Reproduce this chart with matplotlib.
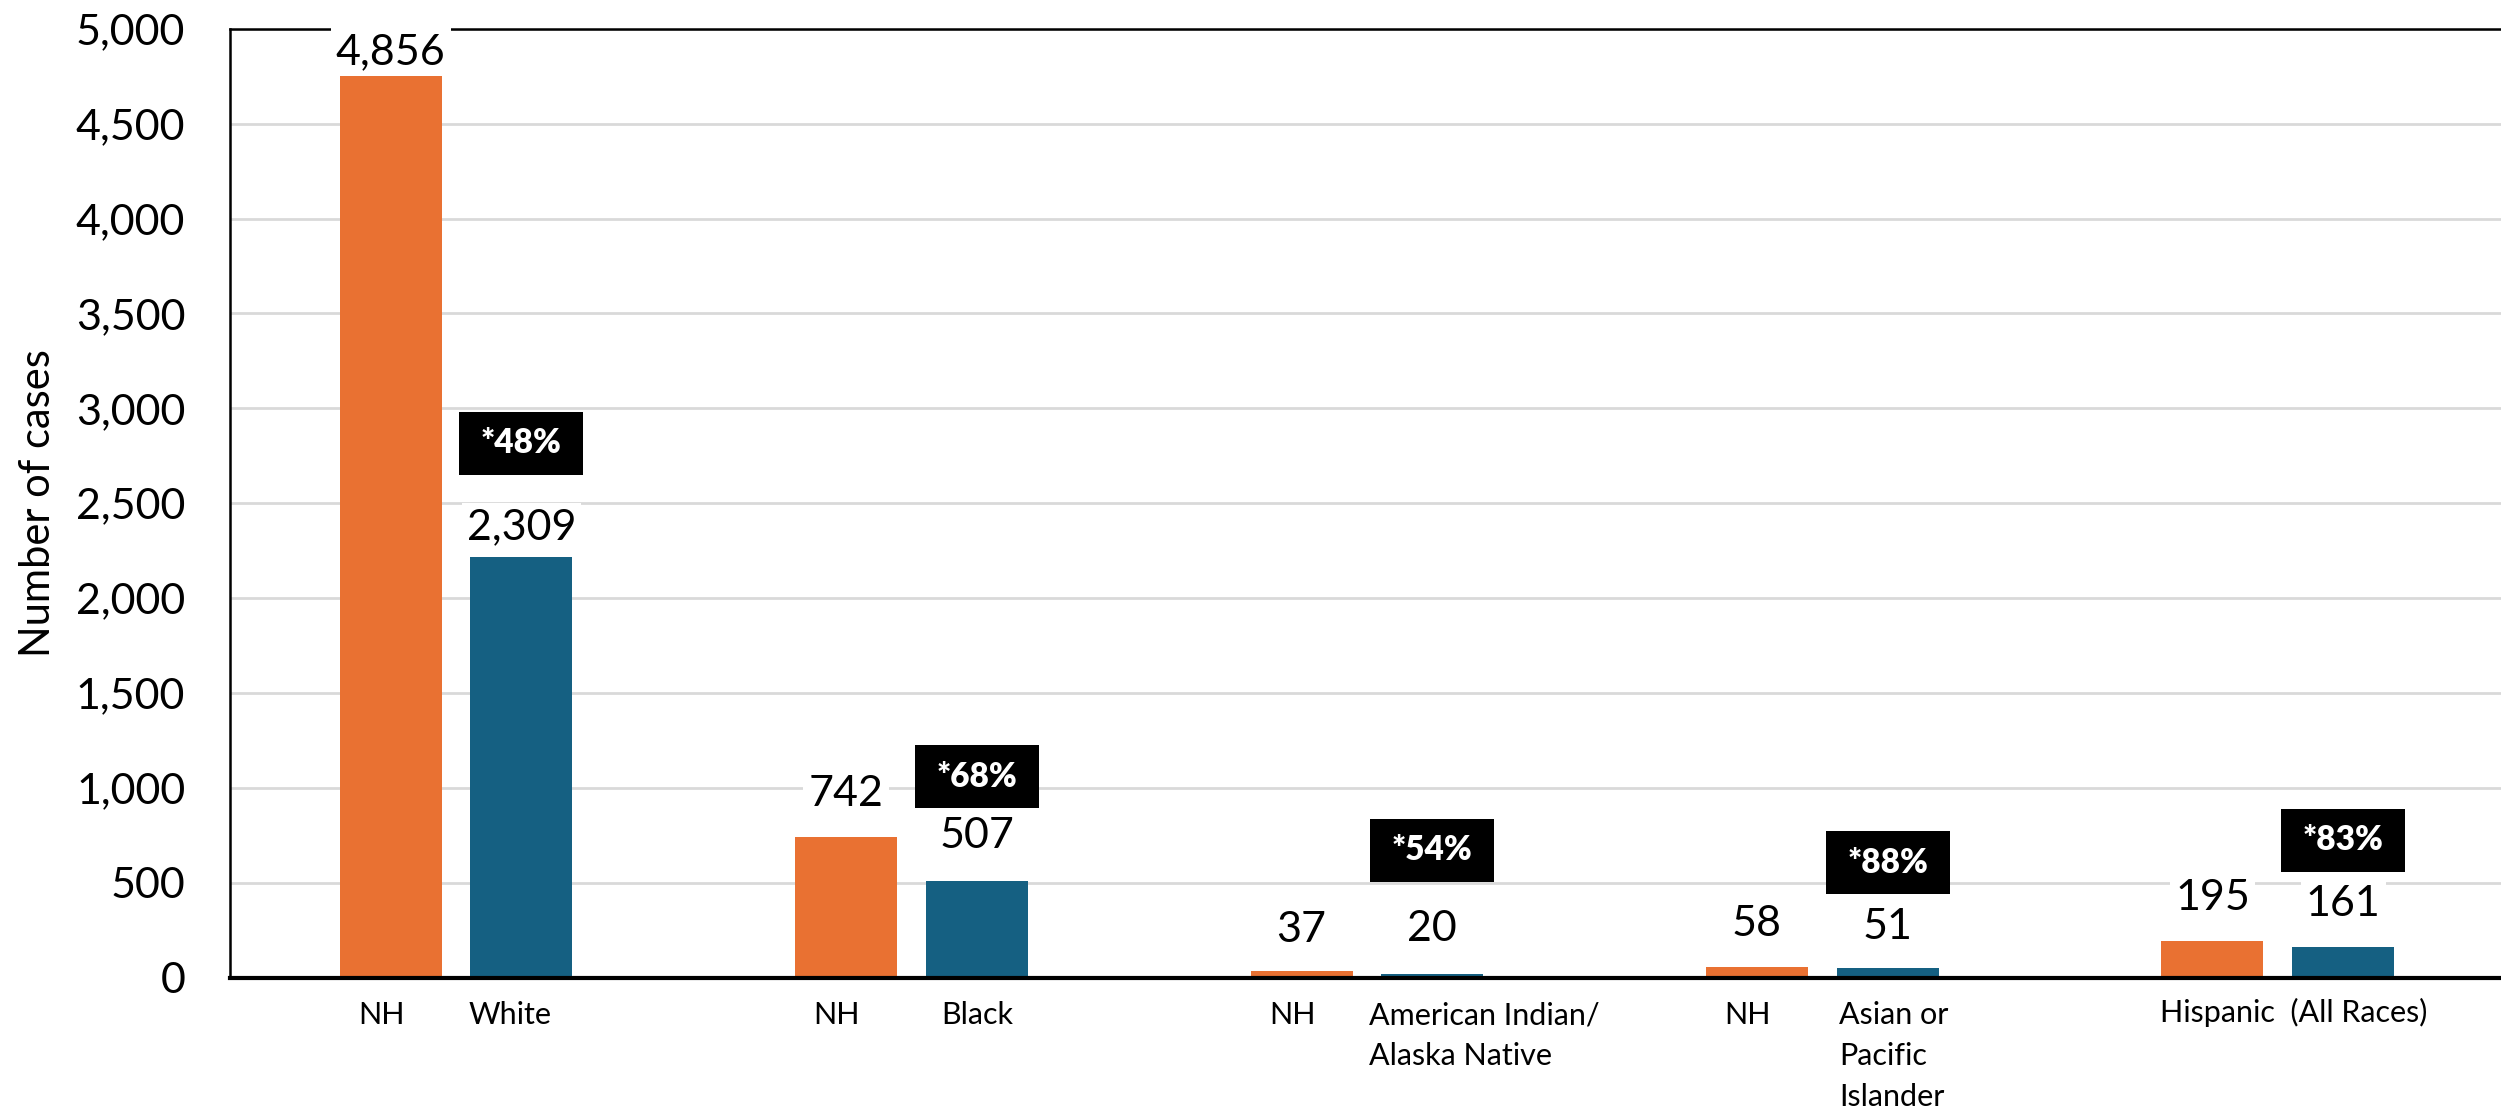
import matplotlib
matplotlib.use("Agg")
import matplotlib.pyplot as plt
import matplotlib.transforms as mtransforms
from matplotlib.patches import Rectangle
import numpy as np

# ---- data ----
groups = ["White", "Black", "American Indian/\nAlaska Native", "Asian or\nPacific\nIslander", "Hispanic"]
nh_heights = [4750, 742, 37, 58, 195]          # bar heights as drawn
all_heights = [2218, 507, 20, 51, 161]
nh_labels = ["4,856", "742", "37", "58", "195"]
all_labels = ["2,309", "507", "20", "51", "161"]
pct_labels = ["*48%", "*68%", "*54%", "*88%", "*83%"]
pct_y = [2815, 1059, 672, 605, 723]
left_labels = ["NH", "NH", "NH", "NH", None]
right_labels = ["White", "Black", "American Indian/\nAlaska Native", "Asian or\nPacific\nIslander", None]
yticks = [0, 500, 1000, 1500, 2000, 2500, 3000, 3500, 4000, 4500, 5000]

ORANGE = "#E97132"
BLUE = "#156082"
FONT = ["Lato", "DejaVu Sans"]

W, H = 2501, 1108
fig = plt.figure(figsize=(W / 100, H / 100), dpi=100)
ax = fig.add_axes([229.7 / W, 1 - 977.7 / H, 1 - 229.7 / W, (977.7 - 28.7) / H])

x = np.arange(len(groups))
off = 0.1436
bw = 0.224
ax.bar(x - off, nh_heights, width=bw, color=ORANGE, zorder=3)
ax.bar(x + off, all_heights, width=bw, color=BLUE, zorder=3)

ax.set_ylim(0, 5000)
ax.set_xlim(-0.497, 4.49)
ax.set_yticks(yticks)
ax.set_yticklabels([f"{v:,}" for v in yticks], fontsize=31, family=FONT)
ax.tick_params(axis="y", length=0, pad=32)
ax.set_xticks([])
ax.grid(axis="y", color="#d9d9d9", linewidth=2, zorder=0)
ax.set_axisbelow(True)
for s in ["top", "left"]:
    ax.spines[s].set_linewidth(1.8)
ax.spines["right"].set_visible(False)
ax.spines["bottom"].set_linewidth(3)
ax.spines["bottom"].set_zorder(4)
fig.text(38 / W, 1 - 503 / H, "Number of cases", rotation=90, ha="center", va="center",
         fontsize=30, family=FONT)

# value labels
nh_off = [24, 43, 41, 43, 43]
all_off = [30, 45, 45, 41, 43]
for i in range(len(groups)):
    ax.annotate(nh_labels[i], (x[i] - off, nh_heights[i]), xytext=(0, nh_off[i]),
                textcoords="offset pixels", ha="center", va="center", fontsize=31,
                family=FONT, zorder=5,
                bbox=dict(boxstyle="square,pad=0.12", fc="white", ec="none"))
    ax.annotate(all_labels[i], (x[i] + off, all_heights[i]), xytext=(0, all_off[i]),
                textcoords="offset pixels", ha="center", va="center", fontsize=31,
                family=FONT, zorder=5,
                bbox=dict(boxstyle="square,pad=0.12", fc="white", ec="none"))

# percentage boxes
bw_in, bh_in = 1.24, 0.63
for i in range(len(groups)):
    tr = fig.dpi_scale_trans + mtransforms.ScaledTranslation(x[i] + off, pct_y[i], ax.transData)
    ax.add_patch(Rectangle((-bw_in / 2, -bh_in / 2), bw_in, bh_in, transform=tr,
                           facecolor="black", edgecolor="none", zorder=6, clip_on=False))
    ax.text(x[i] + off, pct_y[i], pct_labels[i], ha="center", va="center",
            color="white", fontsize=24, fontweight="heavy", family=FONT, zorder=7)

# category labels below axis
tb = mtransforms.blended_transform_factory(ax.transData, ax.transAxes)
ylab = -0.025
XF = 22
for i in range(len(groups)):
    if left_labels[i]:
        ax.text(x[i] - off - 0.02, ylab, left_labels[i], transform=tb, ha="center", va="top",
                fontsize=XF, family=FONT, linespacing=1.55)
right_dx = [-0.025, 0.0, -0.14, -0.107, 0]
for i, rl in enumerate(right_labels):
    if rl is None:
        continue
    if "\n" in rl:
        ax.text(x[i] + off + right_dx[i], ylab, rl, transform=tb, ha="left", va="top",
                fontsize=XF, family=FONT, linespacing=1.55)
    else:
        ax.text(x[i] + off + right_dx[i], ylab, rl, transform=tb, ha="center", va="top",
                fontsize=XF, family=FONT, linespacing=1.55)
ax.text(x[4] + 0.035, ylab + 0.004, "Hispanic  (All Races)", transform=tb, ha="center", va="top",
        fontsize=XF, family=FONT)

fig.savefig("out.png", dpi=100)
